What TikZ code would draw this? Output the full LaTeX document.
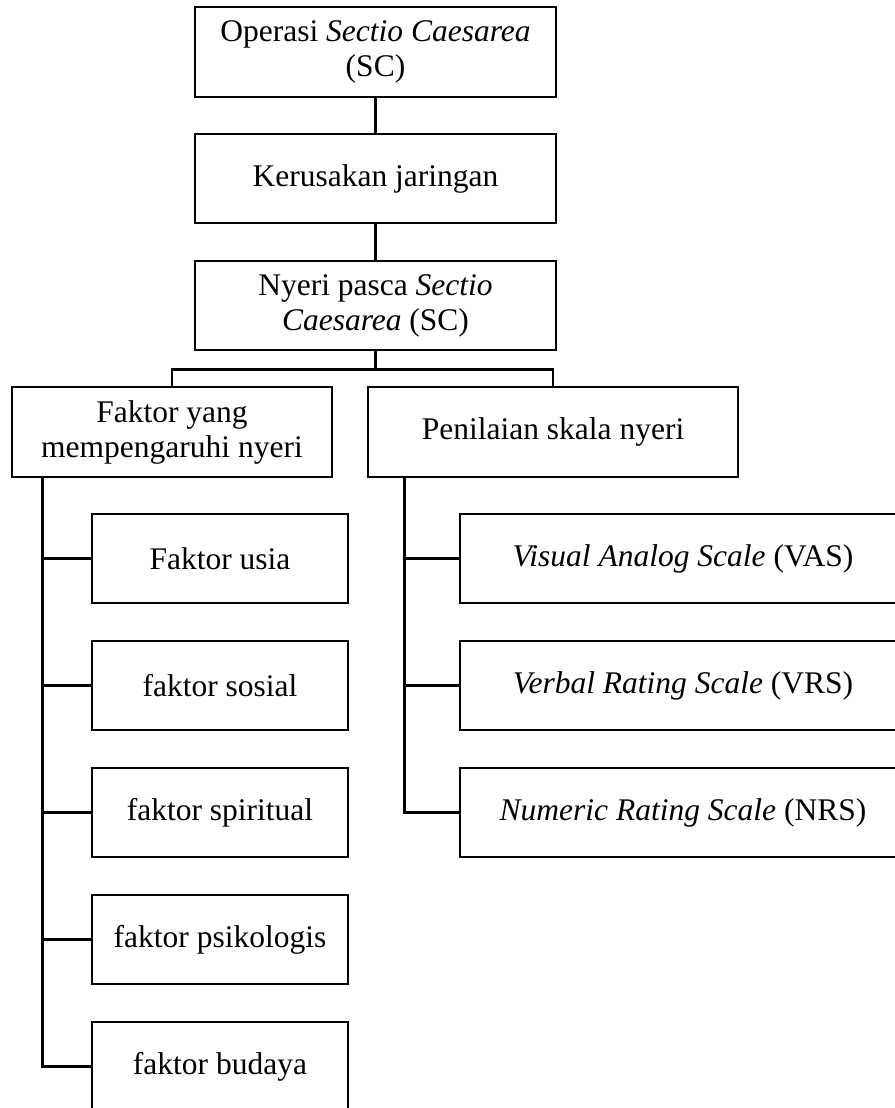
\documentclass[tikz,border=0pt]{standalone}
\usepackage{fontspec}
\setmainfont{Liberation Serif}
\begin{document}
\begin{tikzpicture}[x=1pt, y=-1pt, line width=2.8pt, font=\fontsize{31.5}{35}\selectfont,
	box/.style={draw, align=center, inner sep=0pt, minimum height=89pt}]
			\useasboundingbox (0,0) rectangle (894,1108);
			\node[box, minimum width=361pt, minimum height=90pt] (op) at (375.5,52) {Operasi \textit{Sectio Caesarea}\\(SC)};
			\node[box, minimum width=361pt] (rusak) at (375.5,178.5) {Kerusakan jaringan};
			\node[box, minimum width=361pt] (nyeri) at (375.5,305.5) {Nyeri pasca \textit{Sectio}\\\textit{Caesarea} (SC)};
			\node[box, minimum width=320pt, minimum height=90pt] (faktor) at (172,432) {Faktor yang\\mempengaruhi nyeri};
			\node[box, minimum width=370pt, minimum height=90pt] (skala) at (553,432) {Penilaian skala nyeri};
			\draw (op) -- (rusak);
			\draw (rusak) -- (nyeri);
			\coordinate (bus) at ([yshift=-18pt]nyeri.south);
			\draw (nyeri.south) -- (bus);
			\draw (faktor.north) |- (bus) -| (skala.north);
			% faktor
			\coordinate (fl) at ([xshift=32pt]faktor.south west);
			\foreach \name/\txt [count=\i from 0] in {usia/Faktor usia, sosial/faktor sosial, spiritual/faktor spiritual, psikologis/faktor psikologis, budaya/faktor budaya}{
				\node[box, minimum width=256pt] (\name) at (220,558.5+127*\i) {\txt};
				\draw (fl |- \name.west) -- (\name.west);
			}
			\draw (fl) |- (budaya.west);
			% skala
			\coordinate (sl) at ([xshift=38pt]skala.south west);
			\foreach \name/\txt [count=\i from 0] in {vas/\textit{Visual Analog Scale} (VAS), vrs/\textit{Verbal Rating Scale} (VRS), nrs/\textit{Numeric Rating Scale} (NRS)}{
				\node[box, minimum width=446pt] (\name) at (683,558.5+127*\i) {\txt};
				\draw (sl |- \name.west) -- (\name.west);
			}
			\draw (sl) |- (nrs.west);
	\end{tikzpicture}
\end{document}
